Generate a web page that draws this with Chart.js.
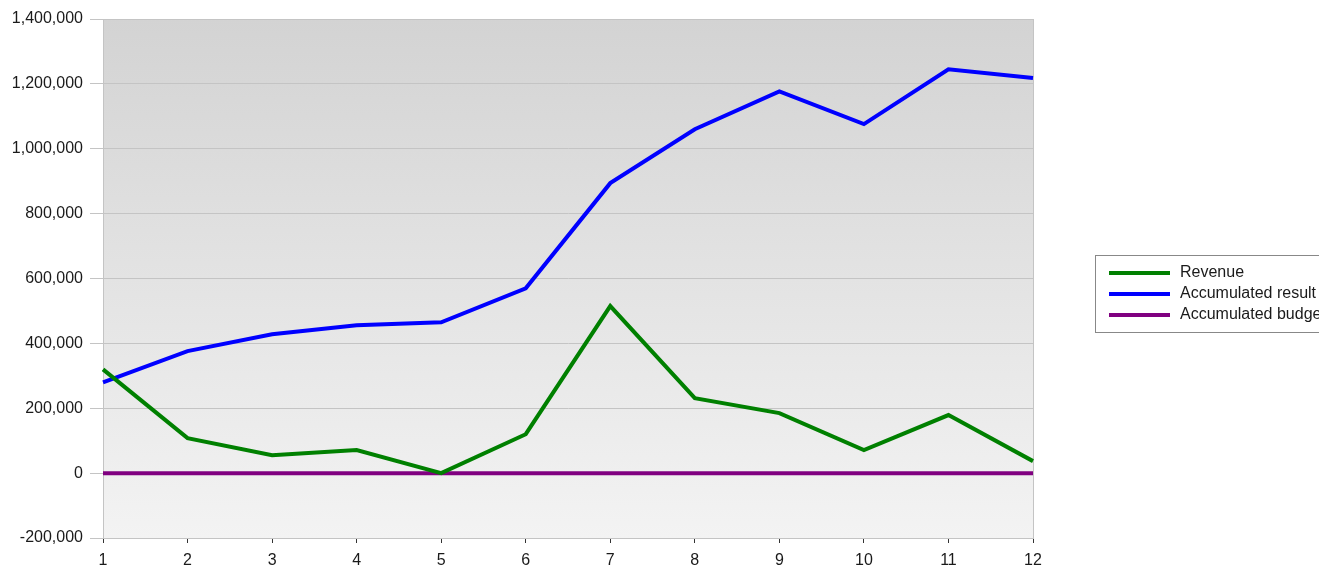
<!DOCTYPE html>
<html>
<head>
<meta charset="utf-8">
<script src="https://cdn.jsdelivr.net/npm/chart.js@4"></script>
<style>
  html, body { margin: 0; padding: 0; background: #fff; overflow: hidden; }
  #wrap { width: 1319px; height: 565px; position: relative; }
</style>
</head>
<body>
<div id="wrap"><canvas id="lineChart"></canvas></div>
<script>
// chart data
const months = ['1','2','3','4','5','6','7','8','9','10','11','12'];
const revenue = [320000, 108000, 55000, 71000, 0, 120000, 515000, 231000, 185000, 71000, 179000, 37000];
const accumulatedResult = [280000, 376000, 428000, 456000, 465000, 570000, 894000, 1060000, 1177000, 1076000, 1245000, 1218000];
const accumulatedBudget = [0, 0, 0, 0, 0, 0, 0, 0, 0, 0, 0, 0];
const seriesNames = ['Revenue', 'Accumulated result', 'Accumulated budget'];
const seriesColours = ['#008000', '#0000ff', '#800080'];

Chart.defaults.font.family = "'Liberation Sans', Arial, sans-serif";
Chart.defaults.font.size = 16;
Chart.defaults.color = '#1a1a1a';

// gradient background + frame for plot area
const plotBackground = {
  id: 'plotBackground',
  beforeDraw(chart) {
    const { ctx, chartArea: a } = chart;
    const g = ctx.createLinearGradient(0, a.top, 0, a.bottom);
    g.addColorStop(0, '#d3d3d3');
    g.addColorStop(1, '#f3f3f3');
    ctx.save();
    ctx.fillStyle = g;
    ctx.fillRect(a.left, a.top, a.right - a.left, a.bottom - a.top);
    ctx.restore();
  },
  beforeDatasetsDraw(chart) {
    const { ctx, chartArea: a } = chart;
    ctx.save();
    ctx.strokeStyle = '#c4c4c4';
    ctx.lineWidth = 1;
    ctx.strokeRect(a.left + 0.5, a.top + 0.5, a.right - a.left, a.bottom - a.top);
    ctx.restore();
  }
};

// boxed legend on the right, runs off the edge like the original
const boxLegend = {
  id: 'boxLegend',
  afterDraw(chart) {
    const ctx = chart.ctx;
    const x = 1095, y = 255, w = 260, h = 77;
    ctx.save();
    ctx.fillStyle = '#fff';
    ctx.fillRect(x, y, w, h);
    ctx.strokeStyle = '#888';
    ctx.lineWidth = 1;
    ctx.strokeRect(x + 0.5, y + 0.5, w, h);
    ctx.font = "16px 'Liberation Sans', Arial, sans-serif";
    ctx.textBaseline = 'middle';
    chart.data.datasets.forEach((ds, i) => {
      const ly = 273 + i * 21;
      ctx.strokeStyle = ds.borderColor;
      ctx.lineWidth = 4;
      ctx.beginPath();
      ctx.moveTo(1109, ly);
      ctx.lineTo(1170, ly);
      ctx.stroke();
      ctx.fillStyle = '#1a1a1a';
      ctx.fillText(ds.label, 1180, ly);
    });
    ctx.restore();
  }
};

const datasets = [revenue, accumulatedResult, accumulatedBudget].map((d, i) => ({
  label: seriesNames[i],
  data: d,
  borderColor: seriesColours[i],
  backgroundColor: seriesColours[i],
  borderWidth: 4,
  pointRadius: 0,
  tension: 0,
  fill: false
}));

new Chart(document.getElementById('lineChart'), {
  type: 'line',
  data: { labels: months, datasets: datasets },
  options: {
    responsive: true,
    maintainAspectRatio: false,
    animation: false,
    layout: { padding: { left: 0, top: 19, right: 286, bottom: 0 } },
    plugins: {
      legend: { display: false },
      tooltip: { enabled: false }
    },
    scales: {
      x: {
        offset: false,
        grid: { drawOnChartArea: false, drawTicks: true, tickLength: 5, tickColor: '#333' },
        border: { color: '#c4c4c4' },
        ticks: { padding: 8, maxRotation: 0, autoSkip: false },
        afterFit(scale) { scale.height = 27; }
      },
      y: {
        min: -200000,
        max: 1400000,
        grid: { color: '#c4c4c4', tickLength: 13 },
        border: { color: '#c4c4c4' },
        ticks: {
          stepSize: 200000,
          padding: 7,
          callback: v => v.toLocaleString('en-US')
        },
        afterFit(scale) { scale.width = 103; }
      }
    }
  },
  plugins: [plotBackground, boxLegend]
});
</script>
</body>
</html>
